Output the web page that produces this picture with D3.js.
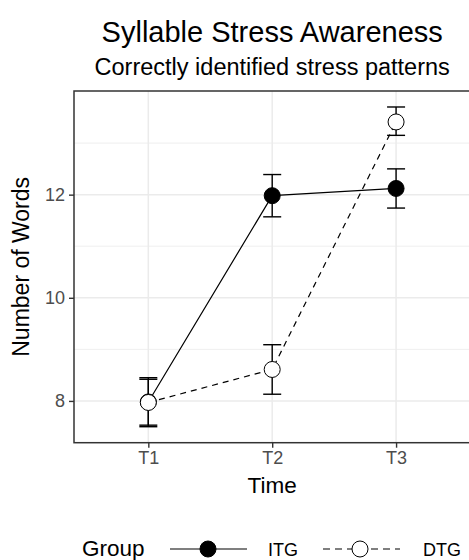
<!DOCTYPE html>
<html><head><meta charset="utf-8">
<script src="https://cdn.jsdelivr.net/npm/d3@7"></script>
<style>body{margin:0;background:#fff;} svg{display:block;font-family:"Liberation Sans",Arial,Helvetica,sans-serif;}</style>
</head><body>
<script>
const times = ["T1","T2","T3"];
const groups = ["ITG","DTG"];
const itgMean = [7.98, 11.98, 12.12];
const itgLow  = [7.50, 11.57, 11.74];
const itgHigh = [8.45, 12.39, 12.50];
const dtgMean = [7.97, 8.61, 13.41];
const dtgLow  = [7.53, 8.13, 13.15];
const dtgHigh = [8.42, 9.09, 13.70];
const yTicks = [8, 10, 12];
const yMinor = [9, 11, 13];

const W = 469, H = 560;
const P = {left:74, right:470.4, top:91, bottom:442.7};
const svg = d3.select("body").append("svg").attr("width",W).attr("height",H);

const series = [
  {name:"ITG", mean:itgMean, lo:itgLow, hi:itgHigh, fill:"#000", dash:null},
  {name:"DTG", mean:dtgMean, lo:dtgLow, hi:dtgHigh, fill:"#fff", dash:"6,5"}
];

const allVals = series.flatMap(s=>s.lo.concat(s.hi));
const ymin = d3.min(allVals), ymax = d3.max(allVals), pad=(ymax-ymin)*0.05;
const x = d3.scalePoint().domain(times).range([P.left,P.right]).padding(0.6);
const y = d3.scaleLinear().domain([ymin-pad, ymax+pad]).range([P.bottom,P.top]);

const plot = svg.append("g");
plot.append("rect").attr("x",P.left).attr("y",P.top).attr("width",P.right-P.left).attr("height",P.bottom-P.top).attr("fill","#fff");
// grid
plot.selectAll(".ymin").data(yMinor).join("line")
  .attr("x1",P.left).attr("x2",P.right).attr("y1",d=>y(d)).attr("y2",d=>y(d))
  .attr("stroke","#EBEBEB").attr("stroke-width",0.8);
plot.selectAll(".ymaj").data(yTicks).join("line")
  .attr("x1",P.left).attr("x2",P.right).attr("y1",d=>y(d)).attr("y2",d=>y(d))
  .attr("stroke","#EBEBEB").attr("stroke-width",1.5);
plot.selectAll(".xmaj").data(times).join("line")
  .attr("x1",d=>x(d)).attr("x2",d=>x(d)).attr("y1",P.top).attr("y2",P.bottom)
  .attr("stroke","#EBEBEB").attr("stroke-width",1.5);

// error bars
series.forEach(s=>{
  const g = plot.append("g");
  times.forEach((t,i)=>{
    const cx = x(t);
    g.append("line").attr("x1",cx).attr("x2",cx).attr("y1",y(s.lo[i])).attr("y2",y(s.hi[i])).attr("stroke","#000").attr("stroke-width",1.4);
    [s.lo[i], s.hi[i]].forEach(v=>{
      g.append("line").attr("x1",cx-9).attr("x2",cx+9).attr("y1",y(v)).attr("y2",y(v)).attr("stroke","#000").attr("stroke-width",1.4);
    });
  });
});
// lines
const line = d3.line().x((d,i)=>x(times[i])).y(d=>y(d));
series.forEach(s=>{
  plot.append("path").attr("d",line(s.mean)).attr("fill","none").attr("stroke","#000").attr("stroke-width",1.2)
    .attr("stroke-dasharray",s.dash);
});
// points
series.forEach(s=>{
  plot.selectAll(null).data(s.mean).join("circle")
    .attr("cx",(d,i)=>x(times[i])).attr("cy",d=>y(d)).attr("r",8)
    .attr("fill",s.fill).attr("stroke","#000").attr("stroke-width",1);
});
// border
plot.append("rect").attr("x",P.left).attr("y",P.top).attr("width",P.right-P.left).attr("height",P.bottom-P.top)
  .attr("fill","none").attr("stroke","#333").attr("stroke-width",1.5);

// axes
const yAxis = svg.append("g").attr("transform",`translate(${P.left},0)`)
  .call(d3.axisLeft(y).tickValues(yTicks).tickSize(5).tickPadding(4).tickFormat(d3.format("d")));
const xAxis = svg.append("g").attr("transform",`translate(0,${P.bottom})`)
  .call(d3.axisBottom(x).tickSize(5).tickPadding(4));
[yAxis,xAxis].forEach(a=>{
  a.select(".domain").remove();
  a.selectAll(".tick line").attr("stroke","#333").attr("stroke-width",1.4);
  a.selectAll(".tick text").attr("fill","#4D4D4D").attr("font-size",18).attr("font-family","Liberation Sans, Arial, sans-serif");
});

// titles
svg.append("text").attr("x",(P.left+P.right)/2).attr("y",42).attr("text-anchor","middle").attr("font-size",29).text("Syllable Stress Awareness");
svg.append("text").attr("x",(P.left+P.right)/2).attr("y",75).attr("text-anchor","middle").attr("font-size",23.5).text("Correctly identified stress patterns");
svg.append("text").attr("x",(P.left+P.right)/2).attr("y",493).attr("text-anchor","middle").attr("font-size",22.5).text("Time");
svg.append("text").attr("transform",`translate(29,${(P.top+P.bottom)/2}) rotate(-90)`).attr("text-anchor","middle").attr("font-size",23).text("Number of Words");

// legend
const ly = 549;
svg.append("text").attr("x",82).attr("y",556).attr("font-size",22.5).text("Group");
const legItems = [
  {s:series[0], x0:170, x1:247, cx:208, tx:268},
  {s:series[1], x0:323, x1:400, cx:360, tx:423}
];
legItems.forEach(it=>{
  svg.append("line").attr("x1",it.x0).attr("x2",it.x1).attr("y1",ly).attr("y2",ly)
    .attr("stroke","#000").attr("stroke-width",1.2).attr("stroke-dasharray",it.s.dash ? "7,5" : null);
  svg.append("circle").attr("cx",it.cx).attr("cy",ly).attr("r",8).attr("fill",it.s.fill).attr("stroke","#000").attr("stroke-width",1);
  svg.append("text").attr("x",it.tx).attr("y",556).attr("font-size",18).text(it.s.name);
});
</script>
</body></html>
